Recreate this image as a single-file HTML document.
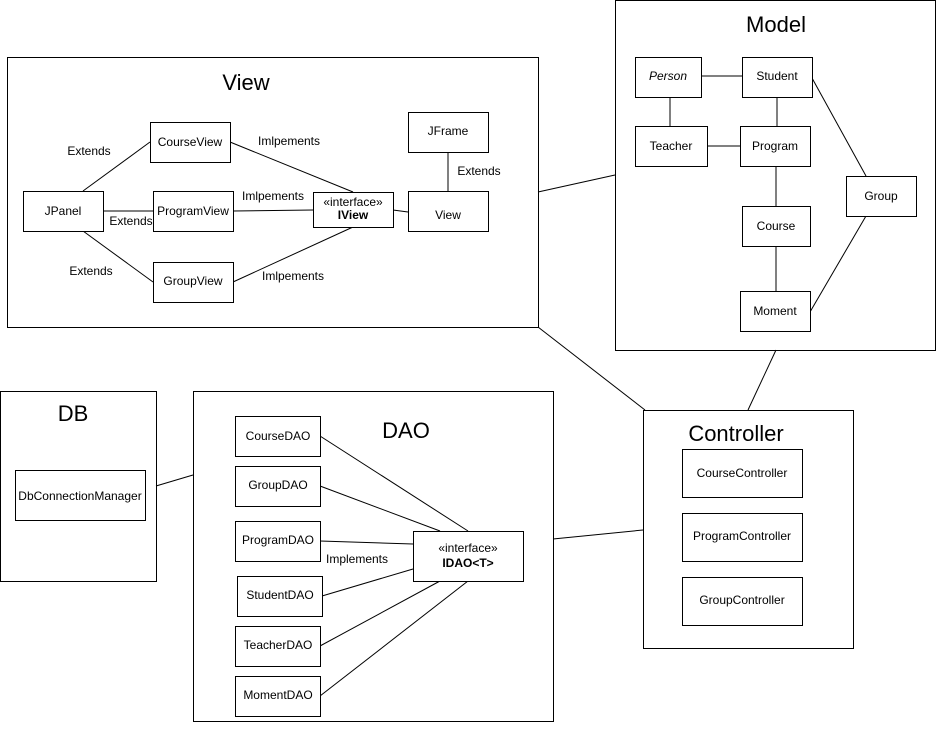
<!DOCTYPE html>
<html><head><style>
body{margin:0;background:#fff}
svg text{font-family:"Liberation Sans",Arial,sans-serif;fill:#000}
</style></head><body>
<svg width="936" height="727" xmlns="http://www.w3.org/2000/svg">
<g fill="#fff" stroke="#000" stroke-width="1">
<!-- containers -->
<rect x="7.5" y="57.5" width="531" height="270"/>
<rect x="615.5" y="0.5" width="320" height="350"/>
<rect x="643.5" y="410.5" width="210" height="238"/>
<rect x="0.5" y="391.5" width="156" height="190"/>
<rect x="193.5" y="391.5" width="360" height="330"/>
</g>
<g stroke="#000" stroke-width="1" fill="none">
<!-- view lines -->
<line x1="83" y1="191" x2="150" y2="142"/>
<line x1="103" y1="211" x2="153" y2="211"/>
<line x1="83" y1="231" x2="153" y2="282"/>
<line x1="230" y1="142" x2="353" y2="192"/>
<line x1="233" y1="211" x2="313" y2="210"/>
<line x1="233" y1="282" x2="353" y2="227"/>
<line x1="393" y1="210" x2="408" y2="212"/>
<line x1="448" y1="152" x2="448" y2="191"/>
<!-- model lines -->
<line x1="701" y1="76" x2="742" y2="76"/>
<line x1="670" y1="97" x2="670" y2="126"/>
<line x1="707" y1="146" x2="740" y2="146"/>
<line x1="777" y1="97" x2="777" y2="126"/>
<line x1="776" y1="166" x2="776" y2="206"/>
<line x1="776" y1="246" x2="776" y2="291"/>
<line x1="812" y1="78" x2="866" y2="176"/>
<line x1="810" y1="312" x2="866" y2="216"/>
<!-- inter-package -->
<line x1="538" y1="192" x2="615" y2="175"/>
<line x1="538" y1="327" x2="645" y2="410"/>
<line x1="776" y1="350" x2="748" y2="410"/>
<line x1="156" y1="486" x2="193" y2="475"/>
<line x1="553" y1="539" x2="643" y2="530"/>
<!-- dao lines -->
<line x1="320" y1="436" x2="468" y2="531"/>
<line x1="320" y1="486" x2="440" y2="531"/>
<line x1="320" y1="541" x2="413" y2="544"/>
<line x1="322" y1="596" x2="413" y2="569"/>
<line x1="320" y1="646" x2="440" y2="581"/>
<line x1="320" y1="696" x2="468" y2="581"/>
</g>
<g fill="#fff" stroke="#000" stroke-width="1">
<rect x="150.5" y="122.5" width="80" height="40"/>
<rect x="23.5" y="191.5" width="80" height="40"/>
<rect x="153.5" y="191.5" width="80" height="40"/>
<rect x="153.5" y="262.5" width="80" height="40"/>
<rect x="313.5" y="192.5" width="80" height="35"/>
<rect x="408.5" y="191.5" width="80" height="40"/>
<rect x="408.5" y="112.5" width="80" height="40"/>
<rect x="635.5" y="57.5" width="66" height="40"/>
<rect x="742.5" y="57.5" width="70" height="40"/>
<rect x="635.5" y="126.5" width="72" height="40"/>
<rect x="740.5" y="126.5" width="70" height="40"/>
<rect x="742.5" y="206.5" width="68" height="40"/>
<rect x="740.5" y="291.5" width="70" height="40"/>
<rect x="846.5" y="176.5" width="70" height="40"/>
<rect x="682.5" y="449.5" width="120" height="48"/>
<rect x="682.5" y="513.5" width="120" height="48"/>
<rect x="682.5" y="577.5" width="120" height="48"/>
<rect x="15.5" y="470.5" width="130" height="50"/>
<rect x="235.5" y="416.5" width="85" height="40"/>
<rect x="235.5" y="466.5" width="85" height="40"/>
<rect x="235.5" y="521.5" width="85" height="40"/>
<rect x="237.5" y="576.5" width="85" height="40"/>
<rect x="235.5" y="626.5" width="85" height="40"/>
<rect x="235.5" y="676.5" width="85" height="40"/>
<rect x="413.5" y="531.5" width="110" height="50"/>
</g>
<g font-size="22" text-anchor="middle">
<text x="246" y="90">View</text>
<text x="776" y="32">Model</text>
<text x="736" y="441">Controller</text>
<text x="73" y="421">DB</text>
<text x="406" y="438">DAO</text>
</g>
<g font-size="12" text-anchor="middle">
<text x="190" y="146">CourseView</text>
<text x="63" y="215">JPanel</text>
<text x="193" y="215">ProgramView</text>
<text x="193" y="285">GroupView</text>
<text x="353" y="206">«interface»</text>
<text x="353" y="219" font-weight="bold">IView</text>
<text x="448" y="219">View</text>
<text x="448" y="135">JFrame</text>
<text x="668" y="80" font-style="italic">Person</text>
<text x="777" y="80">Student</text>
<text x="671" y="150">Teacher</text>
<text x="775" y="150">Program</text>
<text x="776" y="230">Course</text>
<text x="775" y="315">Moment</text>
<text x="881" y="200">Group</text>
<text x="742" y="477">CourseController</text>
<text x="742" y="540">ProgramController</text>
<text x="742" y="604">GroupController</text>
<text x="80" y="500">DbConnectionManager</text>
<text x="278" y="440">CourseDAO</text>
<text x="278" y="489">GroupDAO</text>
<text x="278" y="544">ProgramDAO</text>
<text x="280" y="599">StudentDAO</text>
<text x="278" y="649">TeacherDAO</text>
<text x="278" y="699">MomentDAO</text>
<text x="468" y="552">«interface»</text>
<text x="468" y="567" font-weight="bold">IDAO&lt;T&gt;</text>
<text x="89" y="155">Extends</text>
<text x="131" y="225">Extends</text>
<text x="91" y="275">Extends</text>
<text x="289" y="145">Imlpements</text>
<text x="273" y="200">Imlpements</text>
<text x="293" y="280">Imlpements</text>
<text x="479" y="175">Extends</text>
<text x="357" y="563">Implements</text>
</g>
</svg>
</body></html>
